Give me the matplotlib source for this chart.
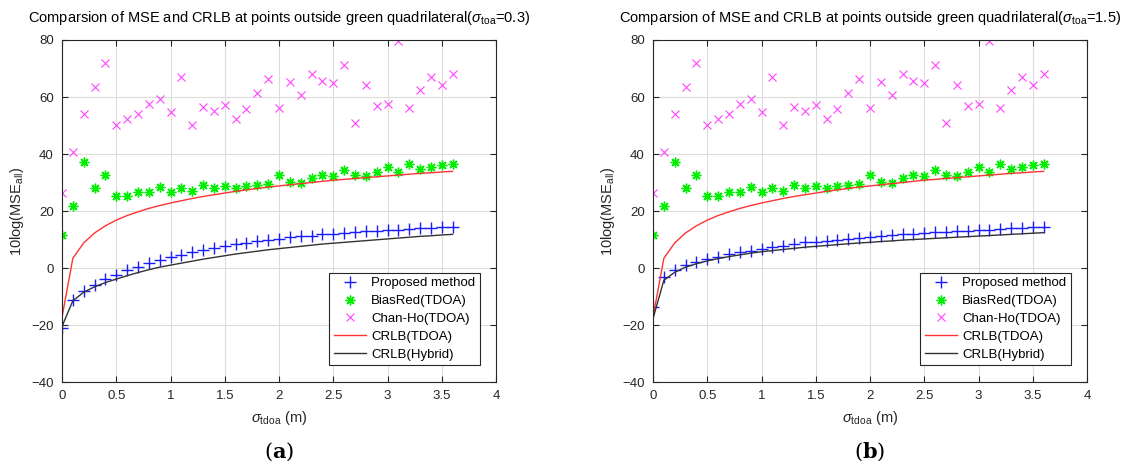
"""
MSE vs CRLB comparison, two panels (sigma_toa = 0.3 and 1.5)
"""
import numpy as np
import matplotlib
matplotlib.use('Agg')
import matplotlib.pyplot as plt

plt.rcParams['font.family'] = ['Liberation Sans', 'DejaVu Sans']
plt.rcParams['mathtext.fontset'] = 'custom'
plt.rcParams['mathtext.rm'] = 'Liberation Sans'
plt.rcParams['mathtext.it'] = 'Liberation Sans:italic'

# sigma_tdoa values (m)
sigma_tdoa = [0.0, 0.1, 0.2, 0.3, 0.4, 0.5, 0.6, 0.7, 0.8, 0.9,
              1.0, 1.1, 1.2, 1.3, 1.4, 1.5, 1.6, 1.7, 1.8, 1.9,
              2.0, 2.1, 2.2, 2.3, 2.4, 2.5, 2.6, 2.7, 2.8, 2.9,
              3.0, 3.1, 3.2, 3.3, 3.4, 3.5, 3.6]

# shared by both panels
chan_ho = [26.4, 40.8, 54.0, 63.4, 71.8, 50.1, 52.2, 54.0, 57.4, 59.4,
           54.7, 67.0, 50.1, 56.6, 55.2, 57.2, 52.4, 55.7, 61.3, 66.2,
           56.2, 65.4, 60.8, 68.2, 65.6, 64.8, 71.2, 51.0, 64.2, 56.8,
           57.4, 79.8, 56.2, 62.5, 67.0, 64.2, 68.1]
bias_red = [11.6, 21.8, 37.1, 28.2, 32.6, 25.4, 25.4, 26.5, 26.8, 28.5,
            26.8, 28.2, 27.0, 29.1, 28.2, 28.7, 28.2, 28.7, 29.1, 29.5,
            32.5, 30.3, 29.7, 31.7, 32.6, 32.3, 34.4, 32.6, 32.3, 33.6,
            35.6, 33.6, 36.5, 34.6, 35.6, 36.3, 36.5]
crlb_tdoa = [-17.3, 3.4, 8.8, 12.3, 14.8, 16.8, 18.4, 19.7, 20.9, 21.9,
             22.8, 23.6, 24.4, 25.1, 25.7, 26.3, 26.9, 27.4, 27.9, 28.4,
             28.8, 29.2, 29.6, 30.0, 30.4, 30.8, 31.1, 31.4, 31.7, 32.0,
             32.3, 32.6, 32.9, 33.2, 33.4, 33.7, 33.9]

# panel (a): sigma_toa = 0.3
proposed_a = [-21.0, -11.3, -8.2, -6.0, -3.9, -2.3, -0.8, 0.4, 1.7, 2.7,
              3.9, 4.5, 5.6, 6.2, 7.0, 7.6, 8.4, 8.8, 9.4, 9.8,
              10.3, 10.8, 11.1, 11.4, 11.8, 12.1, 12.4, 12.6, 12.9, 13.1,
              13.3, 13.5, 13.7, 13.9, 14.1, 14.3, 14.4]
crlb_hybrid_a = [-20.5, -11.5, -8.5, -6.6, -5.1, -3.9, -2.7, -1.6, -0.6, 0.3,
                 1.0, 1.7, 2.4, 3.1, 3.7, 4.3, 4.9, 5.4, 5.9, 6.4,
                 6.8, 7.2, 7.6, 8.0, 8.4, 8.7, 9.0, 9.3, 9.6, 9.9,
                 10.2, 10.5, 10.8, 11.1, 11.3, 11.6, 11.8]

# panel (b): sigma_toa = 1.5
proposed_b = [-13.6, -3.1, -0.7, 1.2, 2.0, 3.2, 4.0, 4.9, 5.7, 6.1,
              6.7, 7.2, 7.8, 8.4, 9.0, 9.2, 9.6, 10.0, 10.2, 10.5,
              11.0, 11.3, 11.6, 11.9, 12.1, 12.3, 12.5, 12.7, 12.9, 13.1,
              13.3, 13.5, 13.7, 13.9, 14.1, 14.3, 14.5]
crlb_hybrid_b = [-17.8, -4.3, -1.5, 0.3, 1.5, 2.5, 3.3, 4.0, 4.6, 5.2,
                 5.7, 6.1, 6.5, 6.9, 7.3, 7.6, 7.9, 8.2, 8.5, 8.8,
                 9.0, 9.3, 9.5, 9.8, 10.0, 10.2, 10.4, 10.6, 10.8, 11.0,
                 11.2, 11.4, 11.6, 11.8, 12.0, 12.2, 12.4]

sigma_toa = ['0.3', '1.5']
panel_tags = ['a', 'b']
xticks = [0, 0.5, 1, 1.5, 2, 2.5, 3, 3.5, 4]
xtick_labels = ['0', '0.5', '1', '1.5', '2', '2.5', '3', '3.5', '4']
yticks = [-40, -20, 0, 20, 40, 60, 80]

AX_COLOR = '#262626'


def draw_panel(ax, proposed, crlb_hybrid, toa):
    ax.plot(sigma_tdoa, proposed, linestyle='none', marker='+', color='#1a1aff',
            markersize=9, markeredgewidth=1.0, label='Proposed method')
    ax.plot(sigma_tdoa, bias_red, linestyle='none', marker=(8, 2, 0),
            color='#00ee00', markersize=7, markeredgewidth=1.0,
            label='BiasRed(TDOA)')
    ax.plot(sigma_tdoa, chan_ho, linestyle='none', marker='x', color='#ff44ff',
            markersize=5.5, markeredgewidth=0.8,
            label='Chan-Ho(TDOA)')
    ax.plot(sigma_tdoa, crlb_tdoa, color='#ff3333', linewidth=1.0,
            label='CRLB(TDOA)')
    ax.plot(sigma_tdoa, crlb_hybrid, color='#333333', linewidth=1.0,
            label='CRLB(Hybrid)')

    ax.set_xlim(0, 4)
    ax.set_ylim(-40, 80)
    ax.set_xticks(xticks)
    ax.set_xticklabels(xtick_labels)
    ax.set_yticks(yticks)
    ax.grid(True, color='#dcdcdc', linewidth=0.8)
    ax.set_axisbelow(True)
    ax.tick_params(direction='in', top=True, right=True, length=4,
                   labelsize=9.5, colors=AX_COLOR, pad=6)
    for s in ax.spines.values():
        s.set_color(AX_COLOR)
        s.set_linewidth(0.8)

    ax.set_title(r'Comparsion of MSE and CRLB at points outside green '
                 r'quadrilateral($\sigma_{\rm toa}$=' + toa + ')',
                 fontsize=10.5, color='black', pad=13)
    ax.set_xlabel(r'$\sigma_{\rm tdoa}$ (m)', fontsize=10.5, color=AX_COLOR,
                  labelpad=5)
    ax.set_ylabel(r'10log(MSE$_{\rm all}$)', fontsize=10.5, color=AX_COLOR,
                  labelpad=4)

    leg = ax.legend(loc='lower right', fontsize=9.5, handlelength=2.5,
                    handletextpad=0.35, borderpad=0.35, labelspacing=0.42,
                    fancybox=False, framealpha=1, edgecolor=AX_COLOR,
                    bbox_to_anchor=(0.978, 0.03))
    leg.get_frame().set_linewidth(0.8)


fig = plt.figure(figsize=(11.29, 4.65), dpi=100)
lefts = [62 / 1129, 653 / 1129]
width = 434 / 1129
bottom = 1 - 382 / 465
height = 342 / 465
data = [(proposed_a, crlb_hybrid_a), (proposed_b, crlb_hybrid_b)]

for left, (prop, hyb), toa, tag in zip(lefts, data, sigma_toa, panel_tags):
    ax = fig.add_axes([left, bottom, width, height])
    draw_panel(ax, prop, hyb, toa)
    fig.text(left + width / 2, 0.028, '(' + r'$\mathbf{' + tag + '}$' + ')',
             ha='center', va='center', fontsize=15, family='DejaVu Serif',
             math_fontfamily='dejavuserif')

fig.savefig('out.png', dpi=100)
